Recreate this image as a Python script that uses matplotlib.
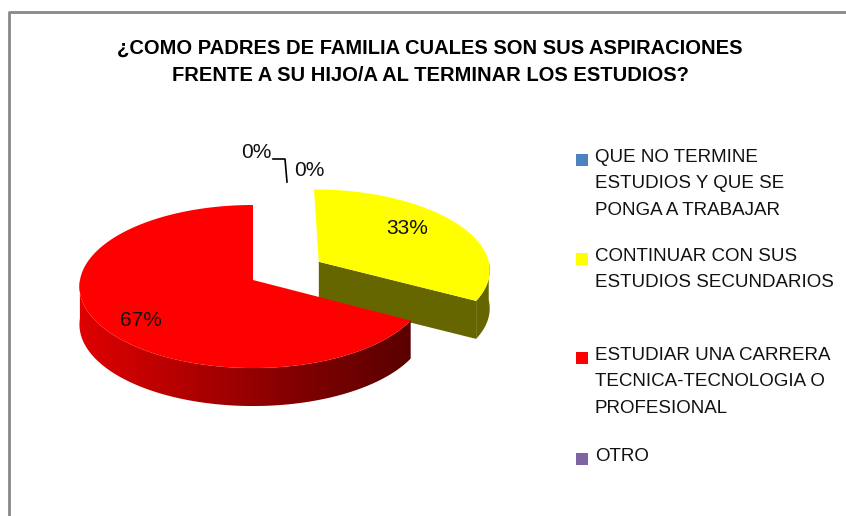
import numpy as np
import matplotlib
matplotlib.use("Agg")
import matplotlib.pyplot as plt
from matplotlib.patches import Polygon

# datos
categorias = ["QUE NO TERMINE\nESTUDIOS Y QUE SE\nPONGA A TRABAJAR",
              "CONTINUAR CON SUS\nESTUDIOS SECUNDARIOS",
              "ESTUDIAR UNA CARRERA\nTECNICA-TECNOLOGIA O\nPROFESIONAL",
              "OTRO"]
valores = [0, 33, 67, 0]
etiquetas = ["0%", "33%", "67%", "0%"]
colores_top = ["#4F81BD", "#FFFF00", "#FF0000", "#8064A2"]
colores_lado = ["#2C4D75", "#666600", "#C00000", "#4D3B62"]
explode = [0, 0.45, 0, 0]
titulo = "¿COMO PADRES DE FAMILIA CUALES SON SUS ASPIRACIONES\nFRENTE A SU HIJO/A AL TERMINAR LOS ESTUDIOS?"

plt.rcParams['font.family'] = ['Liberation Sans', 'DejaVu Sans']

W, H = 846, 516
fig = plt.figure(figsize=(W / 100, H / 100), dpi=100)
ax = fig.add_axes([0, 0, 1, 1])
ax.set_xlim(0, W)
ax.set_ylim(H, 0)
ax.axis('off')

# marco
ax.plot([9, 9, W], [H, 12, 12], color="#888888", lw=2, solid_capstyle='butt')

# geometria del pastel 3D (centro, radios, profundidad, perspectiva)
cx, cy, rx, ry, depth, persp = 253, 280, 173, 81, 38, 0.08


def proj(u, v, z=0.0):
    s = 1.0 / (1.0 + persp * v)
    return cx + rx * u * s, cy - ry * v * s + z


total = float(sum(valores))
fracs = np.array(valores) / total
inicio = 90 - 360 * np.concatenate([[0], np.cumsum(fracs)[:-1]])
fin = inicio - 360 * fracs

# gradiente del lado rojo (claro a la izquierda, oscuro a la derecha)
grad_rojo = matplotlib.colors.LinearSegmentedColormap.from_list(
    "rojo", ["#E00000", "#B00000", "#800000", "#5A0000"])


def dibujar(i):
    if fracs[i] == 0:
        return
    a0, a1 = np.radians(inicio[i]), np.radians(fin[i])
    mid = (a0 + a1) / 2
    du, dv = explode[i] * np.cos(mid), explode[i] * np.sin(mid)
    th = np.linspace(a0, a1, 300)
    # caras de corte visibles
    for a in (a0, a1):
        n = a - np.pi / 2 if a == a1 else a + np.pi / 2
        if np.sin(n) < -0.05:
            p0 = proj(du, dv)
            p1 = proj(du + np.cos(a), dv + np.sin(a))
            poly = [p0, p1, (p1[0], p1[1] + depth), (p0[0], p0[1] + depth)]
            ax.add_patch(Polygon(poly, closed=True, fc=colores_lado[i], ec='none', zorder=2))
    # lado exterior (solo la parte de frente)
    frente = th[np.sin(th) <= 0.0]
    if len(frente) > 1:
        borde = [proj(du + np.cos(t), dv + np.sin(t)) for t in frente]
        lado = borde + [(x, y + depth) for x, y in borde[::-1]]
        if i == 2:
            pg = Polygon(lado, closed=True, fc='none', ec='none', zorder=2)
            ax.add_patch(pg)
            xs = [p[0] for p in lado]
            ys = [p[1] for p in lado]
            im = ax.imshow(np.linspace(0, 1, 256)[None, :], cmap=grad_rojo, aspect='auto',
                           extent=[min(xs), max(xs), max(ys), min(ys)], zorder=2,
                           interpolation='bilinear')
            im.set_clip_path(pg)
        else:
            ax.add_patch(Polygon(lado, closed=True, fc=colores_lado[i], ec='none', zorder=2))
    # superficie superior
    pts = [proj(du + np.cos(t), dv + np.sin(t)) for t in th]
    top = [proj(du, dv)] + pts
    ax.add_patch(Polygon(top, closed=True, fc=colores_top[i], ec='none', zorder=3))


for i in [1, 2]:
    dibujar(i)

ax.set_xlim(0, W)
ax.set_ylim(H, 0)

# etiquetas de porcentaje
pos_etiquetas = [(256, 152), (407, 228), (141, 320), (309, 170)]
for txt, (x, y) in zip(etiquetas, pos_etiquetas):
    ax.text(x, y, txt, fontsize=15, ha='center', va='center', zorder=5, color="#111111")
ax.plot([273, 285, 287], [159, 159, 182], color="black", lw=1.2, zorder=5)

# titulo
ax.text(430, 62, titulo, fontsize=14.5, fontweight='bold', ha='center', va='center',
        linespacing=1.55)

# leyenda
ley_y = [159, 258, 357, 458]
for i, (cat, y0) in enumerate(zip(categorias, ley_y)):
    ax.add_patch(Polygon([(576, y0 - 5), (588, y0 - 5), (588, y0 + 7), (576, y0 + 7)],
                         closed=True, fc=colores_top[i], ec='none'))
    ax.text(595, y0 - 10, cat, fontsize=13.5, ha='left', va='top', linespacing=1.72,
            color="#111111")

fig.savefig("out.png", dpi=100)
